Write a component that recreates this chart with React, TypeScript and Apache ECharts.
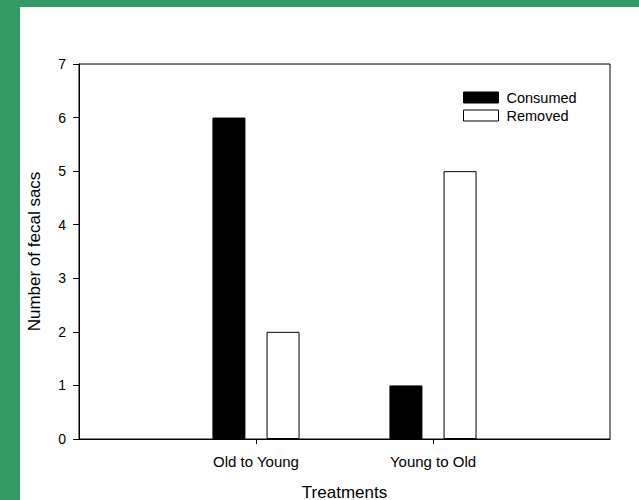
import React, { useEffect, useRef } from "react";
import * as echarts from "echarts";

const categories = ["", "Old to Young", "Young to Old", ""];
const consumed = [null, 6, 1, null];
const removed = [null, 2, 5, null];
const yTicks = [0, 1, 2, 3, 4, 5, 6, 7];

const FONT = "'Liberation Sans', Arial, sans-serif";

export default function App() {
  const ref = useRef<HTMLDivElement>(null);
  useEffect(() => {
    if (!ref.current) return;
    const chart = echarts.init(ref.current, null, { renderer: "svg" });
    chart.setOption({
      animation: false,
      backgroundColor: "#ffffff",
      textStyle: { fontFamily: FONT, color: "#000" },
      grid: {
        left: 59,
        top: 57,
        width: 531,
        height: 375,
        outerBoundsMode: "none",
        containLabel: false,
        show: true,
        borderColor: "#000",
        borderWidth: 1,
        backgroundColor: "#fff",
      },
      legend: {
        orient: "vertical",
        left: 443,
        top: 83,
        padding: 0,
        icon: "rect",
        itemWidth: 35,
        itemHeight: 11,
        itemGap: 3,
        textStyle: { fontFamily: FONT, fontSize: 14.5, color: "#000", padding: [0, 0, 0, 3] },
        data: [
          { name: "Consumed", itemStyle: { color: "#000", borderColor: "#000", borderWidth: 1 } },
          { name: "Removed", itemStyle: { color: "#fff", borderColor: "#000", borderWidth: 1 } },
        ],
      },
      xAxis: {
        type: "category",
        data: categories,
        boundaryGap: false,
        name: "Treatments",
        nameLocation: "middle",
        nameGap: 44,
        nameTextStyle: { fontFamily: FONT, fontSize: 17, color: "#000", lineHeight: 18 },
        axisLine: { show: true, lineStyle: { color: "#000", width: 1 } },
        axisTick: {
          show: true,
          length: 5,
          interval: (i: number) => i === 1 || i === 2,
          lineStyle: { color: "#000" },
        },
        axisLabel: {
          interval: 0,
          margin: 15,
          fontFamily: FONT,
          fontSize: 15,
          color: "#000",
        },
        splitLine: { show: false },
      },
      yAxis: {
        type: "value",
        min: 0,
        max: yTicks[yTicks.length - 1],
        interval: 1,
        name: "Number of fecal sacs",
        nameLocation: "middle",
        nameGap: 36,
        nameTextStyle: { fontFamily: FONT, fontSize: 17, color: "#000" },
        axisLine: { show: true, lineStyle: { color: "#000", width: 1 } },
        axisTick: { show: true, length: 6, inside: false, lineStyle: { color: "#000" } },
        axisLabel: { margin: 13, fontFamily: FONT, fontSize: 14, color: "#000" },
        splitLine: { show: false },
      },
      series: [
        {
          name: "Consumed",
          type: "bar",
          data: consumed,
          barWidth: 33,
          barGap: "64%",
          itemStyle: { color: "#000", borderColor: "#000", borderWidth: 1 },
        },
        {
          name: "Removed",
          type: "bar",
          data: removed,
          barWidth: 33,
          barGap: "64%",
          itemStyle: { color: "#fff", borderColor: "#000", borderWidth: 1 },
        },
      ],
    });
    return () => chart.dispose();
  }, []);
  return (
    <div
      style={{
        position: "fixed",
        left: 0,
        top: 0,
        width: 639,
        height: 500,
        background: "#339966",
      }}
    >
      <div
        ref={ref}
        style={{ position: "absolute", left: 20, top: 7, width: 619, height: 493, background: "#fff" }}
      />
    </div>
  );
}
